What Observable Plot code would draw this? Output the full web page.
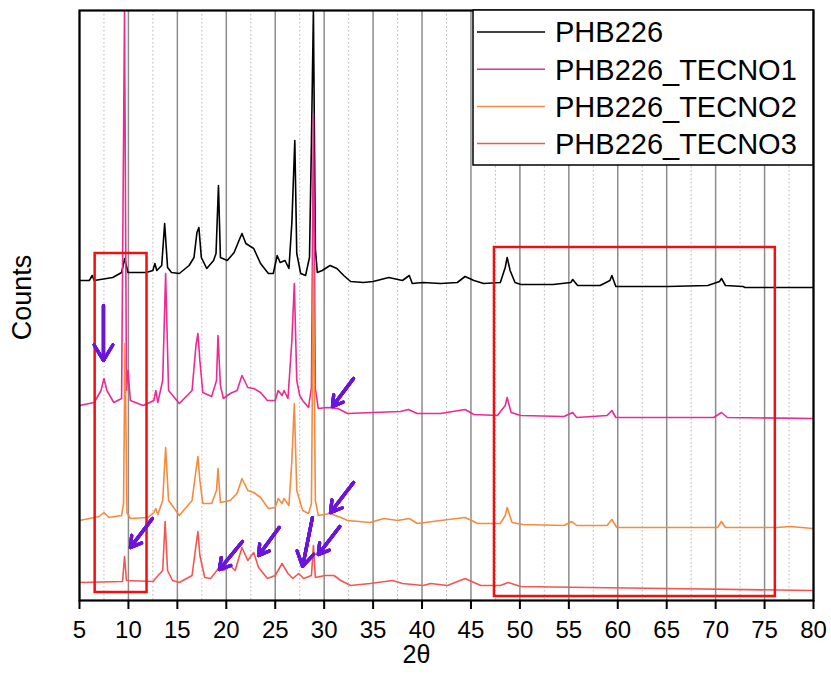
<!DOCTYPE html>
<html>
<head>
<meta charset="utf-8">
<script src="https://cdn.jsdelivr.net/npm/d3@7"></script>
<script src="https://cdn.jsdelivr.net/npm/@observablehq/plot@0.6"></script>
<style>
  body { margin: 0; background: white; }
  #wrap { position: relative; width: 831px; height: 693px; }
  #legend { position: absolute; left: 0; top: 0; }
</style>
</head>
<body>
<div id="wrap"></div>
<script>
// ---- data (2θ, counts incl. vertical offset) ----
const seriesNames = ["PHB226", "PHB226_TECNO1", "PHB226_TECNO2", "PHB226_TECNO3"];
const seriesColors = ["#000000", "#ec2a92", "#f68a3e", "#f4554f"];

const phb226 = [
  [5.0,320],[6.0,320],[6.3,325],[6.5,320],[8.4,323],[9.3,328],[9.62,342],[9.95,328],[11.8,328],
  [12.5,330],[12.7,337],[12.9,330],[13.4,335],[13.7,377],[14.0,333],[14.4,328],[15.2,327],
  [16.2,335],[16.7,343],[17.0,368],[17.2,373],[17.45,343],[18.0,332],[18.7,340],[18.95,347],
  [19.2,415],[19.4,343],[20.1,340],[20.8,348],[21.3,360],[21.6,367],[21.8,362],[22.0,357],
  [22.8,352],[23.5,337],[24.3,327],[24.8,327],[25.2,345],[25.5,338],[26.0,340],[26.4,332],
  [26.7,378],[27.0,460],[27.2,347],[27.6,327],[28.1,325],[28.5,343],[28.7,458],[28.9,590],
  [29.1,352],[29.3,328],[29.8,330],[30.6,335],[31.3,332],[32.0,325],[32.7,319],[34.0,318],
  [35.0,319],[36.6,323],[38.0,320],[38.7,325],[39.0,317],[40.1,318],[41.9,317],[43.6,318],
  [44.4,324],[45.3,320],[46.3,317],[48.0,318],[48.5,333],[48.7,343],[49.0,330],[49.5,318],
  [50.1,316],[53.4,316],[55.2,318],[55.4,321],[55.9,315],[58.2,315],[59.2,320],[59.4,325],
  [59.8,314],[65.1,314],[69.2,315],[70.4,319],[70.6,322],[71.0,315],[72.8,314],[73.0,313],[80.0,313]
];

const tecno1 = [
  [5.0,195],[6.5,198],[7.2,210],[7.5,222],[7.8,210],[8.5,198],[9.3,202],[9.6,590],[9.8,210],
  [9.95,230],[10.2,200],[11.5,195],[12.6,200],[12.8,210],[13.0,198],[13.5,220],[13.8,327],
  [14.1,210],[15.2,197],[16.5,210],[16.9,255],[17.1,267],[17.3,240],[17.6,208],[18.5,204],
  [19.0,220],[19.15,265],[19.4,215],[19.7,202],[20.4,207],[21.1,210],[21.6,225],[22.2,213],
  [22.8,212],[23.5,208],[24.2,200],[25.0,200],[25.3,210],[25.7,205],[25.9,210],[26.3,202],
  [26.7,260],[26.95,317],[27.2,220],[27.5,205],[27.8,200],[28.4,193],[28.7,213],[28.9,487],
  [29.1,212],[29.4,192],[30.3,193],[31.4,192],[32.4,187],[35.0,188],[37.8,189],[38.6,191],
  [39.5,187],[41.9,187],[44.4,191],[45.3,186],[47.7,185],[48.5,195],[48.7,203],[49.1,188],
  [50.1,185],[54.5,184],[55.4,188],[55.8,183],[58.9,185],[59.4,190],[59.8,183],[65.1,183],
  [69.8,183],[70.6,188],[71.2,183],[80.0,182]
];

const tecno2 = [
  [5.0,80],[7.0,84],[7.5,88],[8.0,83],[9.3,85],[9.5,97],[9.65,257],[9.85,88],[10.2,82],
  [12.0,83],[12.6,88],[12.8,92],[13.0,86],[13.5,100],[13.8,153],[14.1,100],[15.2,85],
  [16.5,100],[16.9,130],[17.1,144],[17.3,120],[17.6,97],[18.5,97],[19.0,110],[19.15,132],
  [19.4,98],[20.4,100],[21.1,107],[21.6,122],[22.2,110],[22.8,108],[23.5,103],[24.3,92],
  [25.0,93],[25.3,102],[25.7,97],[25.9,102],[26.4,95],[26.7,140],[26.95,197],[27.2,110],
  [27.8,90],[28.4,87],[28.7,97],[28.9,335],[29.1,100],[29.4,85],[30.6,87],[31.7,83],
  [32.4,80],[34.7,78],[36.1,82],[37.5,80],[38.7,82],[39.5,77],[41.9,80],[44.4,83],[45.7,77],
  [48.0,77],[48.5,85],[48.7,93],[49.2,78],[50.3,76],[54.5,75],[55.3,79],[55.8,75],[58.9,75],
  [59.4,81],[59.9,73],[70.2,73],[70.6,79],[71.0,73],[76.3,73],[77.6,74],[80.0,72]
];

const tecno3 = [
  [5.0,18],[9.4,19],[9.6,44],[9.8,20],[12.5,19],[13.5,30],[13.75,79],[14.0,30],[14.5,20],
  [15.2,18],[16.5,25],[16.9,55],[17.1,69],[17.3,45],[17.8,23],[18.4,22],[19.2,32],[19.7,30],
  [20.4,35],[20.9,30],[21.6,53],[22.2,40],[22.8,48],[23.3,33],[24.2,22],[25.0,25],[25.7,37],
  [26.3,27],[26.8,22],[27.4,27],[27.9,22],[28.7,25],[28.9,55],[29.1,23],[30.1,25],[31.0,25],
  [31.7,20],[32.7,15],[34.7,17],[37.0,20],[38.0,17],[40.1,15],[40.9,17],[42.6,15],[44.4,22],
  [46.0,15],[48.0,15],[48.8,18],[50.1,14],[56.9,13],[65.0,12],[80.0,10]
];

const xTicks = [5,10,15,20,25,30,35,40,45,50,55,60,65,70,75,80];
const minorGrid = [7.5,12.5,17.5,22.5,27.5,32.5,37.5,42.5,47.5,52.5,57.5,62.5,67.5,72.5,77.5];

// highlight boxes: [x1, x2, y1, y2]
const boxes = [[6.6, 11.9, 8, 347], [47.4, 76.1, 4, 353]];
// annotation arrows: [x1, y1, x2, y2]
const arrows = [
  [7.45, 295, 7.45, 240],
  [33.0, 222, 30.85, 194],
  [33.0, 118, 30.65, 88],
  [12.45, 82, 10.2, 53],
  [21.65, 59, 19.3, 31],
  [25.4, 73, 23.3, 45],
  [28.8, 83, 27.8, 34],
  [31.6, 74, 29.4, 46]
];

const series = [phb226, tecno1, tecno2, tecno3];
const rows = series.flatMap((s, i) => s.map(([t, c]) => ({theta: t, counts: c, name: seriesNames[i]})));

const arrowColor = "#6a14dc";
const arrowOpts = (len) => ({x1: d => d[0], y1: d => d[1], x2: d => d[2], y2: d => d[3],
  stroke: arrowColor, strokeWidth: 3.2, headLength: len, headAngle: 62});
const headSizes = [15, 12.5, 10, 7.5, 5, 2.5];

const chart = Plot.plot({
  width: 831,
  height: 693,
  marginLeft: 79,
  marginRight: 18,
  marginTop: 10,
  marginBottom: 93,
  style: {fontFamily: "'Liberation Sans Narrow', 'Liberation Sans', Arial, sans-serif", fontSize: "24px", color: "black", background: "white", overflow: "visible"},
  x: {domain: [5, 80]},
  y: {domain: [0, 590], axis: null},
  color: {domain: seriesNames, range: seriesColors},
  marks: [
    Plot.ruleX(minorGrid, {stroke: "#b4b4b4", strokeWidth: 1, strokeDasharray: "1.5,2.5"}),
    Plot.ruleX(xTicks, {stroke: "#8c8c8c", strokeWidth: 1.5}),
    Plot.line(rows, {x: "theta", y: "counts", z: "name", stroke: "name", strokeWidth: 1.6, clip: true}),
    Plot.rect(boxes, {x1: d => d[0], x2: d => d[1], y1: d => d[2], y2: d => d[3], fill: "none", stroke: "#f01010", strokeWidth: 2.5}),
    ...headSizes.map(h => Plot.arrow(arrows, arrowOpts(h))),
    Plot.frame({stroke: "black", strokeWidth: 2.2}),
    Plot.axisX({ticks: xTicks, tickSize: 9, tickPadding: 11, strokeWidth: 2, label: null}),
    Plot.text(["2θ"], {frameAnchor: "bottom", dx: -30, dy: 62, fontSize: 25, fontFamily: "'Liberation Sans', Arial, sans-serif"}),
    Plot.text(["Counts"], {frameAnchor: "left", dx: -57, dy: -8, rotate: -90, textAnchor: "middle", fontSize: 27, fontFamily: "'Liberation Sans', Arial, sans-serif"})
  ]
});

const wrap = document.getElementById("wrap");
wrap.appendChild(chart);

// legend overlay (inside the plot area, top right)
const leg = d3.select(wrap).append("svg")
  .attr("id", "legend").attr("width", 831).attr("height", 693);
leg.append("rect").attr("x", 473).attr("y", 10).attr("width", 340).attr("height", 155)
  .attr("fill", "white").attr("stroke", "black").attr("stroke-width", 1.5);
seriesNames.forEach((n, i) => {
  const y = 32 + i * 37.2;
  leg.append("line").attr("x1", 477).attr("x2", 545).attr("y1", y).attr("y2", y)
    .attr("stroke", seriesColors[i]).attr("stroke-width", 1.5);
  leg.append("text").attr("x", 555).attr("y", y).attr("dy", "0.36em")
    .attr("font-family", "'Liberation Sans', Arial, sans-serif").attr("font-size", 29)
    .attr("fill", "black").text(n);
});
</script>
</body>
</html>
